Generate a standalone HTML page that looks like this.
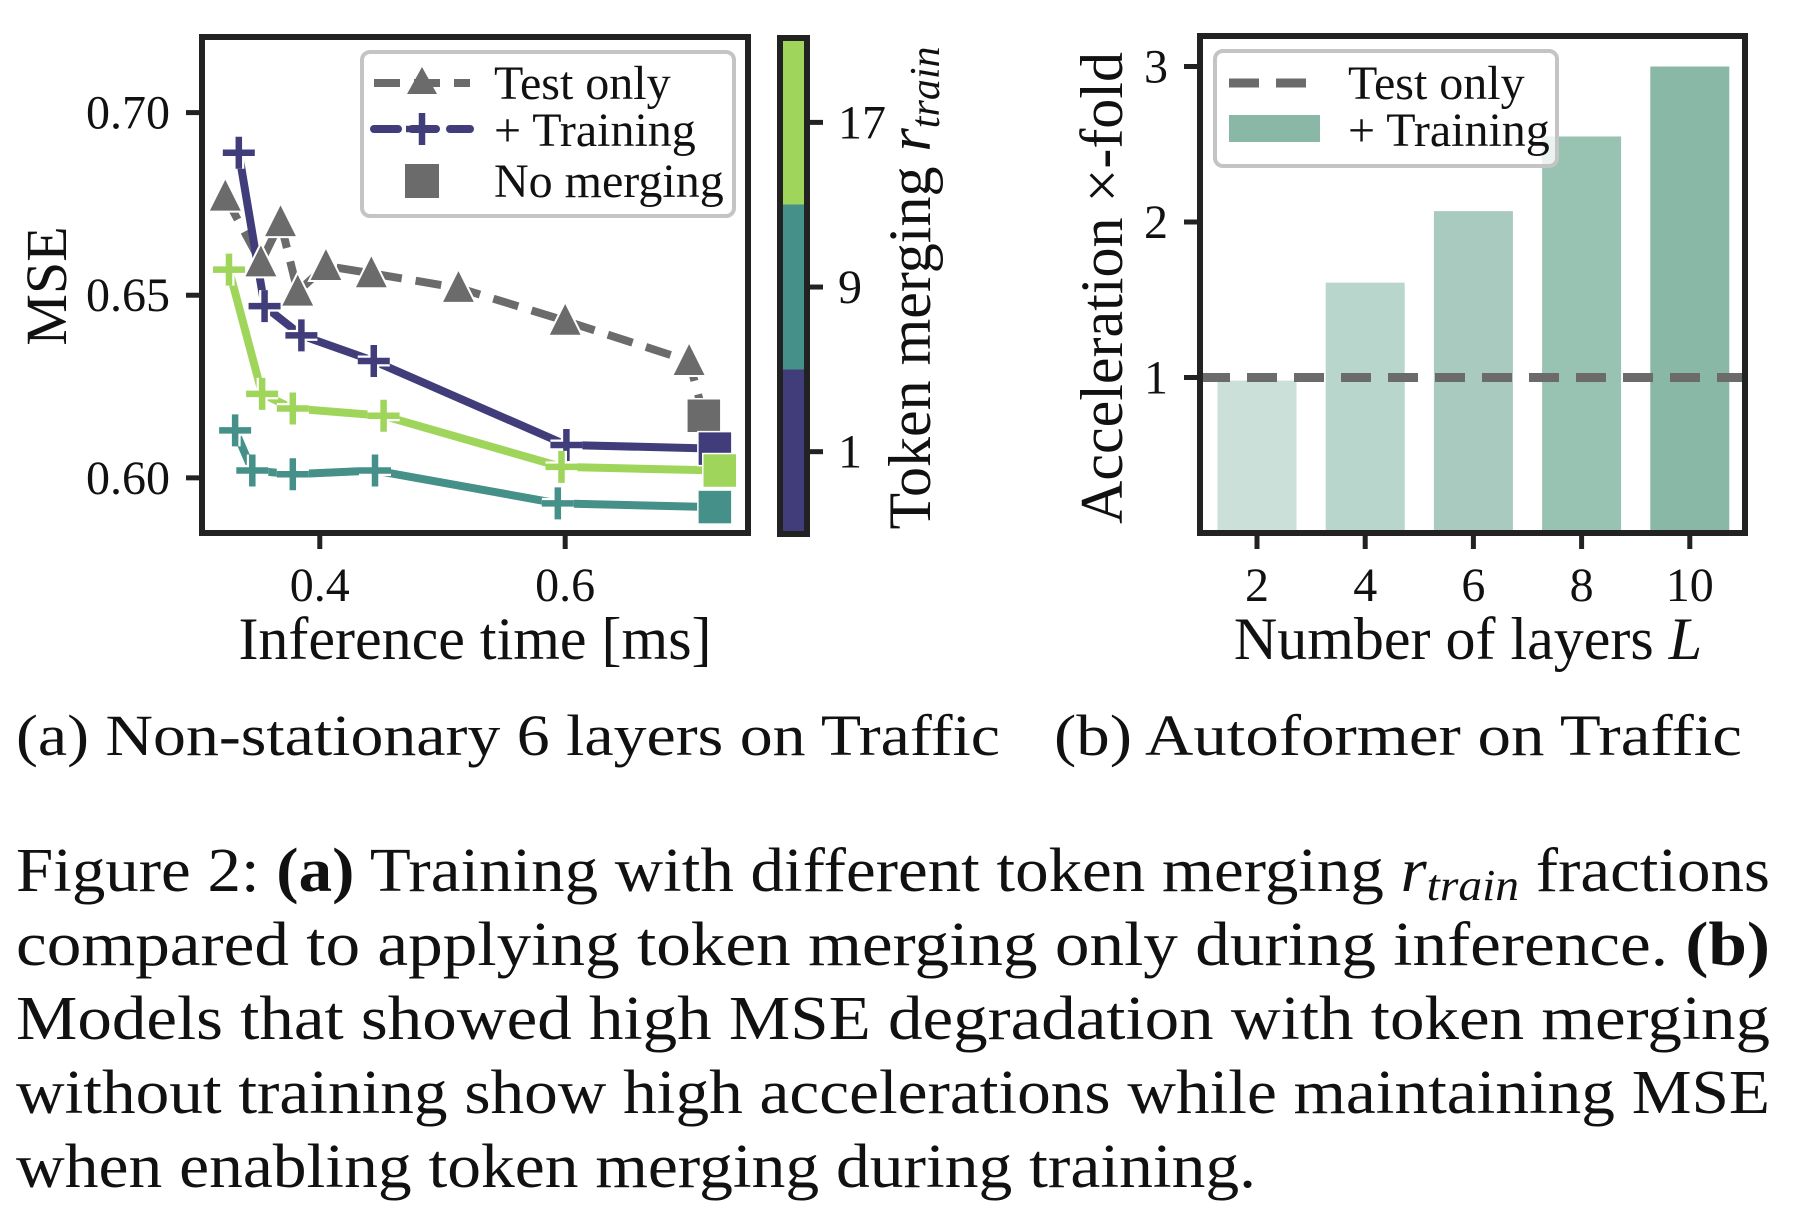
<!DOCTYPE html>
<html><head><meta charset="utf-8"><style>
html,body{margin:0;padding:0;background:#fff}
svg{display:block}
text{font-family:"Liberation Serif","DejaVu Serif",serif;fill:#111}
</style></head><body>
<svg id="fig" width="1804" height="1224" viewBox="0 0 1804 1224" xmlns="http://www.w3.org/2000/svg">
<rect width="1804" height="1224" fill="#fff"/>
<g id="left"></g>
<g id="right"></g>

<text x="16" y="755" font-size="58" textLength="984" lengthAdjust="spacingAndGlyphs">(a) Non-stationary 6 layers on Traffic</text>
<text x="1054" y="755" font-size="58" textLength="688" lengthAdjust="spacingAndGlyphs">(b) Autoformer on Traffic</text>

<g font-size="62">
<text x="16" y="891" textLength="1754" lengthAdjust="spacingAndGlyphs">Figure 2: <tspan font-weight="bold">(a)</tspan> Training with different token merging <tspan font-style="italic">r</tspan><tspan font-style="italic" font-size="44" dy="9">train</tspan><tspan dy="-9"> fractions</tspan></text>
<text x="16" y="965" textLength="1754" lengthAdjust="spacingAndGlyphs">compared to applying token merging only during inference. <tspan font-weight="bold">(b)</tspan></text>
<text x="16" y="1039" textLength="1754" lengthAdjust="spacingAndGlyphs">Models that showed high MSE degradation with token merging</text>
<text x="16" y="1113" textLength="1754" lengthAdjust="spacingAndGlyphs">without training show high accelerations while maintaining MSE</text>
<text x="16" y="1187" textLength="1240" lengthAdjust="spacingAndGlyphs">when enabling token merging during training.</text>
</g>
</svg>
<script>
// ---------- Left chart data ----------
const testX = [0.323,0.352,0.368,0.382,0.405,0.442,0.513,0.600,0.701,0.713];
const testY = [0.677,0.659,0.670,0.651,0.658,0.656,0.652,0.643,0.632,0.617];
const r1X = [0.334,0.355,0.385,0.444,0.601,0.722];
const r1Y = [0.689,0.647,0.639,0.632,0.609,0.608];
const r9X = [0.331,0.345,0.378,0.445,0.594,0.722];
const r9Y = [0.613,0.602,0.601,0.602,0.593,0.592];
const r17X = [0.326,0.353,0.378,0.452,0.597,0.726];
const r17Y = [0.657,0.623,0.619,0.617,0.603,0.602];
const leftXTicks = [0.4,0.6];
const leftXTickLabels = ["0.4","0.6"];
const leftYTicks = [0.60,0.65,0.70];
const leftYTickLabels = ["0.60","0.65","0.70"];
const cbTicks = [1,9,17];
const cbTickLabels = ["1","9","17"];
// ---------- Right chart data ----------
const layers = ["2","4","6","8","10"];
const accel = [0.98,1.61,2.07,2.55,3.0];
const testOnlyAccel = 1;
const rightYTicks = [1,2,3];
const rightYTickLabels = ["1","2","3"];

const NS="http://www.w3.org/2000/svg";
function mk(parent,tag,attrs,txt){const e=document.createElementNS(NS,tag);for(const k in attrs)e.setAttribute(k,attrs[k]);if(txt!==undefined)e.textContent=txt;parent.appendChild(e);return e;}

// ---- left axes ----
const L={x0:202,x1:748,y0:37,y1:533};
const lx=v=>L.x0+(v-0.304)/(0.749-0.304)*(L.x1-L.x0);
const ly=v=>L.y1-(v-0.5849)/(0.7207-0.5849)*(L.y1-L.y0);
const gl=document.getElementById('left');

function poly(xs,ys,color,dash,w,name){
  const pts=xs.map((x,i)=>lx(x).toFixed(1)+','+ly(ys[i]).toFixed(1)).join(' ');
  const p=mk(gl,'polyline',{points:pts,fill:'none',stroke:color,'stroke-width':w,'stroke-dasharray':dash||'none','stroke-linejoin':'round'});
  
  
}
function plus(cx,cy,color,name){
  const g=mk(gl,'g',{});
  
  
  const s=16;
  mk(g,'path',{d:`M${cx-s} ${cy}H${cx+s}M${cx} ${cy-s}V${cy+s}`,stroke:'#fff','stroke-width':11});
  mk(g,'path',{d:`M${cx-s} ${cy}H${cx+s}M${cx} ${cy-s}V${cy+s}`,stroke:color,'stroke-width':6.5});
}
function tri(cx,cy,name){
  const s=17;
  const t=mk(gl,'polygon',{points:`${cx},${cy-s-2} ${cx-s},${cy+s-2} ${cx+s},${cy+s-2}`,fill:'#6b6b6b',stroke:'#fff','stroke-width':2});
  
  
}
function sq(cx,cy,color,name){
  const s=17;
  const r=mk(gl,'rect',{x:cx-s,y:cy-s,width:2*s,height:2*s,fill:color,stroke:'#fff','stroke-width':1.5});
  
  
}
const cPurple='#413d7b',cTeal='#46908a',cGreen='#9fd55a',cGray='#6b6b6b';
poly(testX,testY,cGray,'26 14',8,'test-only-line');
poly(r1X,r1Y,cPurple,null,8,'training-r1-line');
poly(r17X,r17Y,cGreen,null,8,'training-r17-line');
poly(r9X,r9Y,cTeal,null,8,'training-r9-line');
for(let i=0;i<testX.length-1;i++) tri(lx(testX[i]),ly(testY[i]),'test-only-point');
sq(lx(testX[testX.length-1]),ly(testY[testY.length-1]),cGray,'no-merging-test');
[[r1X,r1Y,cPurple,'r1'],[r17X,r17Y,cGreen,'r17'],[r9X,r9Y,cTeal,'r9']].forEach(([xs,ys,c,n])=>{
  for(let i=0;i<xs.length-1;i++) plus(lx(xs[i]),ly(ys[i]),c,'training-'+n+'-point');
  sq(lx(xs[xs.length-1]),ly(ys[ys.length-1]),c,'no-merging-'+n);
});
// frame
let f=mk(gl,'rect',{x:L.x0,y:L.y0,width:L.x1-L.x0,height:L.y1-L.y0,fill:'none',stroke:'#222','stroke-width':6});


leftXTicks.forEach((v,i)=>{
  mk(gl,'line',{x1:lx(v),x2:lx(v),y1:L.y1,y2:L.y1+16,stroke:'#222','stroke-width':5});
  const t=mk(gl,'text',{x:lx(v),y:601,'font-size':48,'text-anchor':'middle'},leftXTickLabels[i]);
  
  
});
leftYTicks.forEach((v,i)=>{
  mk(gl,'line',{x1:L.x0-16,x2:L.x0,y1:ly(v),y2:ly(v),stroke:'#222','stroke-width':5});
  const t=mk(gl,'text',{x:170,y:ly(v)+16,'font-size':48,'text-anchor':'end'},leftYTickLabels[i]);
  
  
});
let t=mk(gl,'text',{x:475,y:659,'font-size':60,'text-anchor':'middle'},'Inference time [ms]');


t=mk(gl,'text',{x:0,y:0,'font-size':58,'text-anchor':'middle',transform:'translate(66,286) rotate(-90)'},'MSE');


// legend
let lg=mk(gl,'g',{});


mk(lg,'rect',{x:362,y:52,width:372,height:164,rx:8,fill:'rgba(255,255,255,0.85)',stroke:'#c4c4c4','stroke-width':4});
mk(lg,'line',{x1:374,x2:470,y1:83,y2:83,stroke:cGray,'stroke-width':8,'stroke-dasharray':'26 14'});
mk(lg,'polygon',{points:'422,67 407,94 437,94',fill:cGray});
mk(lg,'text',{x:494,y:99,'font-size':48},'Test only');
mk(lg,'line',{x1:374,x2:470,y1:129,y2:129,stroke:cPurple,'stroke-width':8,'stroke-dasharray':'24 14','stroke-linecap':'round'});
mk(lg,'path',{d:'M406 129H438M422 113V145',stroke:cPurple,'stroke-width':6.5});
mk(lg,'text',{x:494,y:146,'font-size':48},'+ Training');
mk(lg,'rect',{x:405,y:164,width:34,height:34,fill:cGray});
mk(lg,'text',{x:494,y:197,'font-size':48},'No merging');
// colorbar
const CB={x:780,w:27,y0:38,y1:534};
const cbv=v=>CB.y1-(v-(-3.0))/(21.1-(-3.0))*(CB.y1-CB.y0);
let cbg=mk(gl,'g',{});


mk(cbg,'rect',{x:CB.x,y:CB.y0,width:CB.w,height:204.5-CB.y0,fill:cGreen});
mk(cbg,'rect',{x:CB.x,y:204.5,width:CB.w,height:165,fill:cTeal});
mk(cbg,'rect',{x:CB.x,y:369.5,width:CB.w,height:CB.y1-369.5,fill:cPurple});
mk(cbg,'rect',{x:CB.x,y:CB.y0,width:CB.w,height:CB.y1-CB.y0,fill:'none',stroke:'#222','stroke-width':6});
cbTicks.forEach((v,i)=>{
  mk(cbg,'line',{x1:CB.x+CB.w,x2:CB.x+CB.w+16,y1:cbv(v),y2:cbv(v),stroke:'#222','stroke-width':5});
  const tt=mk(cbg,'text',{x:838,y:cbv(v)+16,'font-size':48},cbTickLabels[i]);
  
  
});
t=mk(gl,'text',{x:0,y:0,'font-size':60,'text-anchor':'middle',transform:'translate(930,288) rotate(-90)'});


mk(t,'tspan',{},'Token merging ');
mk(t,'tspan',{'font-style':'italic'},'r');
mk(t,'tspan',{'font-style':'italic','font-size':42,dy:9},'train');

// ---- right chart ----
const R={x0:1200,x1:1745,y0:36,y1:533};
const gr=document.getElementById('right');
const ry=v=>R.y1-v*155.5;
const bx=i=>1257+i*108.2;
const barColors=['#cbe0d9','#b9d6cc','#a9cbbf','#98c2b2','#89b9a6'];
accel.forEach((v,i)=>{
  const b=mk(gr,'rect',{x:bx(i)-39.5,y:ry(v),width:79,height:R.y1-ry(v),fill:barColors[i]});
  
  
});
let dl=mk(gr,'line',{x1:R.x0,x2:R.x1,y1:ry(testOnlyAccel),y2:ry(testOnlyAccel),stroke:cGray,'stroke-width':9,'stroke-dasharray':'30 17'});


f=mk(gr,'rect',{x:R.x0,y:R.y0,width:R.x1-R.x0,height:R.y1-R.y0,fill:'none',stroke:'#222','stroke-width':6});


layers.forEach((s,i)=>{
  mk(gr,'line',{x1:bx(i),x2:bx(i),y1:R.y1,y2:R.y1+16,stroke:'#222','stroke-width':5});
  const tt=mk(gr,'text',{x:bx(i),y:601,'font-size':48,'text-anchor':'middle'},s);
  
  
});
rightYTicks.forEach((v,i)=>{
  mk(gr,'line',{x1:R.x0-16,x2:R.x0,y1:ry(v),y2:ry(v),stroke:'#222','stroke-width':5});
  const tt=mk(gr,'text',{x:1168,y:ry(v)+16,'font-size':48,'text-anchor':'end'},rightYTickLabels[i]);
  
  
});
t=mk(gr,'text',{x:1468,y:659,'font-size':60,'text-anchor':'middle'});


mk(t,'tspan',{},'Number of layers ');
mk(t,'tspan',{'font-style':'italic'},'L');
t=mk(gr,'text',{x:0,y:0,'font-size':60,'text-anchor':'middle',transform:'translate(1122,288) rotate(-90)'},'Acceleration ×-fold');


lg=mk(gr,'g',{});


mk(lg,'rect',{x:1215,y:51,width:342,height:115,rx:8,fill:'rgba(255,255,255,0.8)',stroke:'#c4c4c4','stroke-width':4});
mk(lg,'line',{x1:1229,x2:1321,y1:83,y2:83,stroke:cGray,'stroke-width':9,'stroke-dasharray':'30 17'});
mk(lg,'text',{x:1348,y:99,'font-size':48},'Test only');
mk(lg,'rect',{x:1229,y:115,width:91,height:27,fill:'#89b9a6'});
mk(lg,'text',{x:1348,y:146,'font-size':48},'+ Training');
</script>
</body></html>
